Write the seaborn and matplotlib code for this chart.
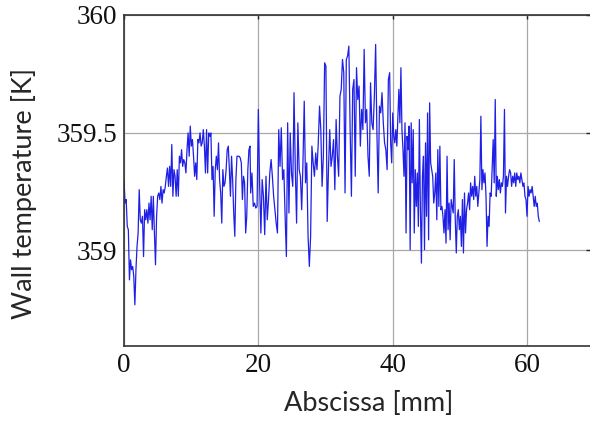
import numpy as np
import pandas as pd
import seaborn as sns
import matplotlib.pyplot as plt

# wall temperature [K], in three pieces along the abscissa
# piece 1: 0 - 18.8 mm
temp_a = [359.294, 359.201, 359.216, 359.102, 359.088, 358.875, 358.960, 358.918, 358.932, 358.889,
          358.769, 358.918, 359.017, 359.074, 359.258, 359.130, 359.116, 359.145, 358.974, 359.173,
          359.130, 359.173, 359.116, 359.201, 359.130, 359.230, 359.088, 359.230, 359.074, 358.939,
          359.145, 359.230, 359.244, 359.216, 359.272, 359.201, 359.258, 359.244, 359.272, 359.315,
          359.350, 359.272, 359.357, 359.272, 359.450, 359.230, 359.343, 359.315, 359.230, 359.343,
          359.230, 359.400, 359.372, 359.428, 359.357, 359.386, 359.372, 359.329, 359.428, 359.499,
          359.400, 359.528, 359.443, 359.471, 359.400, 359.315, 359.372, 359.301, 359.471, 359.457,
          359.499, 359.443, 359.457, 359.513, 359.443, 359.329, 359.513, 359.329, 359.499, 359.485,
          359.499, 359.301, 359.357, 359.145, 359.343, 359.400, 359.343, 359.457, 359.301, 359.244,
          359.116, 359.343, 359.272, 359.287, 359.343, 359.428, 359.443, 359.343, 359.230, 359.400,
          359.301, 359.159, 359.060, 359.301, 359.400, 359.400, 359.400, 359.393, 359.372, 359.216,
          359.315, 359.287, 359.074, 359.145, 359.343, 359.428, 359.443]
# piece 2: 18.9 - 39.6 mm
temp_b = [359.244, 359.329, 359.187, 359.201, 359.180, 359.187, 359.599, 359.287, 359.074, 359.301,
          359.230, 359.067, 359.315, 359.130, 359.216, 359.329, 359.386, 359.315, 359.230, 359.173,
          359.116, 359.074, 359.513, 359.357, 359.521, 359.301, 359.343, 359.145, 358.974, 359.542,
          359.159, 359.499, 359.329, 359.272, 359.670, 359.343, 359.116, 359.542, 359.343, 359.315,
          359.173, 359.372, 359.634, 359.287, 359.372, 359.060, 358.932, 359.060, 359.443, 359.372,
          359.315, 359.414, 359.343, 359.457, 359.613, 359.513, 359.272, 359.400, 359.797, 359.783,
          359.123, 359.343, 359.513, 359.357, 359.400, 359.471, 359.258, 359.556, 359.400, 359.315,
          359.655, 359.684, 359.811, 359.755, 359.244, 359.811, 359.826, 359.868, 359.513, 359.230,
          359.684, 359.726, 359.315, 359.776, 359.641, 359.698, 359.443, 359.599, 359.513, 359.854,
          359.542, 359.599, 359.400, 359.315, 359.712, 359.542, 359.513, 359.655, 359.875, 359.499,
          359.244, 359.613, 359.584, 359.670, 359.542, 359.457, 359.428, 359.343, 359.726, 359.755]
# piece 3: 39.7 - 61.8 mm
temp_c = [359.457, 359.372, 359.584, 359.485, 359.457, 359.513, 359.443, 359.570, 359.684, 359.542,
          359.776, 359.513, 359.428, 359.315, 359.542, 359.074, 359.485, 359.428, 359.528, 359.003,
          359.542, 359.287, 359.513, 359.074, 359.343, 359.187, 359.329, 359.102, 359.556, 359.173,
          358.946, 359.315, 359.400, 359.003, 359.457, 359.145, 359.584, 359.045, 359.627, 359.372,
          359.343, 359.315, 359.201, 359.244, 359.329, 359.130, 359.428, 359.187, 359.443, 359.173,
          359.187, 359.145, 359.074, 359.173, 359.031, 359.400, 359.088, 359.201, 359.045, 359.216,
          359.187, 359.159, 359.386, 359.130, 358.989, 359.145, 359.173, 359.088, 359.145, 359.017,
          359.216, 358.989, 359.244, 359.074, 359.173, 359.201, 359.244, 359.173, 359.287, 359.230,
          359.272, 359.216, 359.315, 359.230, 359.272, 359.187, 359.244, 359.301, 359.570, 359.258,
          359.343, 359.287, 359.329, 359.230, 359.017, 359.145, 359.102, 359.244, 359.230, 359.357,
          359.471, 359.287, 359.641, 359.230, 359.315, 359.258, 359.301, 359.244, 359.287, 359.272,
          359.315, 359.599, 359.159, 359.315, 359.272, 359.315, 359.343, 359.329, 359.272, 359.315,
          359.287, 359.329, 359.272, 359.329, 359.301, 359.315, 359.287, 359.329, 359.301, 359.272,
          359.287, 359.230, 359.216, 359.145, 359.272, 359.230, 359.258, 359.244, 359.272, 359.230,
          359.187, 359.230, 359.187, 359.201, 359.145, 359.123]

# start / end abscissa of each piece [mm]
span_a = (0.0, 18.76)
span_b = (18.86, 39.55)
span_c = (39.70, 61.83)

x_ticks = [0, 20, 40, 60]
y_ticks = [359, 359.5, 360]
y_tick_labels = ['359', '359.5', '360']


def build_frame():
    parts = []
    for span, temps in [(span_a, temp_a), (span_b, temp_b), (span_c, temp_c)]:
        parts.append(pd.DataFrame({'x': np.linspace(span[0], span[1], len(temps)), 'T': temps}))
    return pd.concat(parts, ignore_index=True)


def main():
    df = build_frame()
    sns.set_style('white')
    plt.rcParams['font.family'] = ['Liberation Serif', 'DejaVu Serif']

    fig = plt.figure(figsize=(5.9, 4.23), dpi=100)
    ax = fig.add_axes([124 / 590, 1 - 346 / 423, 465.5 / 590, 331 / 423])

    sns.lineplot(data=df, x='x', y='T', ax=ax, color='#1f1fe6', linewidth=0.9,
                 estimator=None, sort=False)

    ax.set_xlim(0, 69.3)
    ax.set_ylim(358.594, 360.0)
    ax.set_xticks(x_ticks)
    ax.set_yticks(y_ticks)
    ax.set_yticklabels(y_tick_labels)
    ax.grid(True, color='#a8a8a8', linewidth=0.9)
    ax.tick_params(direction='in', length=3, width=1, labelsize=19.5, pad=5,
                   top=True, right=True, colors='#222222')
    ax.tick_params(axis='both', labelcolor='#111111')

    for side in ['left', 'bottom', 'top']:
        ax.spines[side].set_color('#333333')
        ax.spines[side].set_linewidth(1.2)
    ax.spines['right'].set_visible(False)

    ax.set_xlabel('Abscissa [mm]', family=['Lato', 'DejaVu Sans'], fontsize=19.5)
    ax.set_ylabel('Wall temperature [K]', family=['Lato', 'DejaVu Sans'], fontsize=19.5)
    ax.xaxis.set_label_coords(0.525, -0.135)
    ax.yaxis.set_label_coords(-0.187, 0.462)

    plt.savefig('out.png', dpi=100)
    plt.close()


if __name__ == '__main__':
    main()
